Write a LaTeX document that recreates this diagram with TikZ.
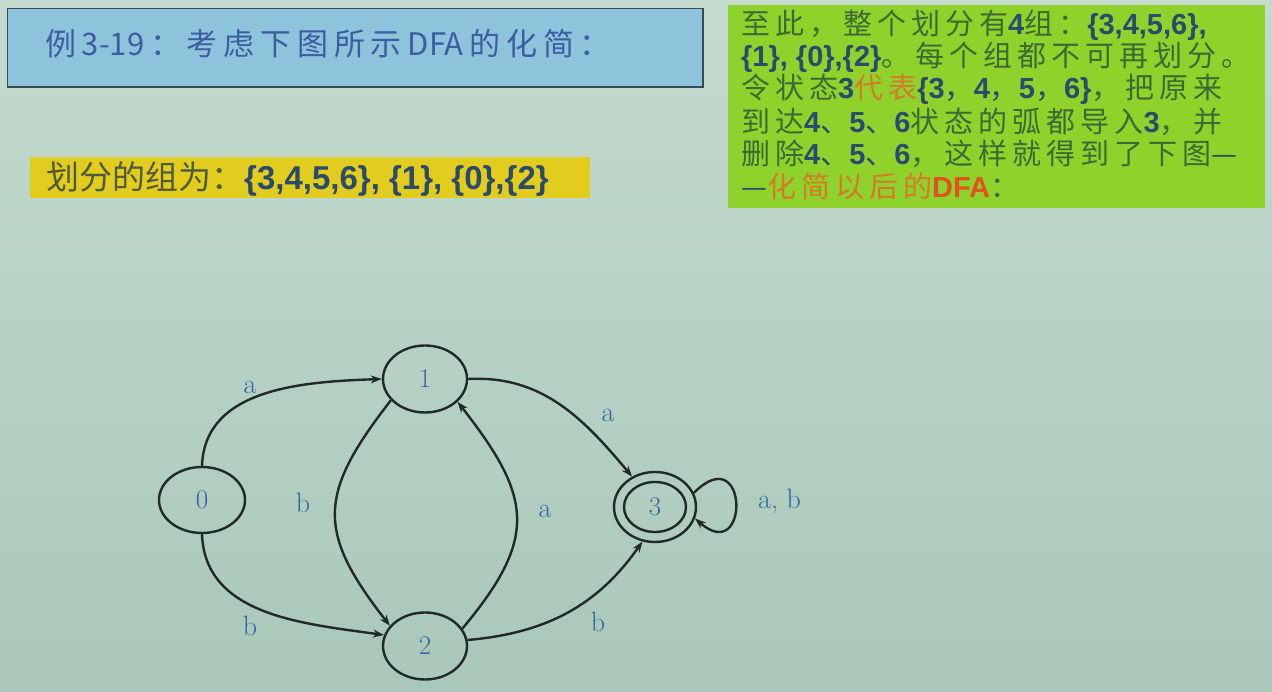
\documentclass[tikz,border=0pt]{standalone}
\usepackage{fontspec}
\setsansfont{Liberation Sans}
\newfontfamily\cjk{Noto Sans CJK SC}
\usetikzlibrary{shapes.geometric,arrows.meta}
\definecolor{bgtop}{HTML}{C4DBCF}
\definecolor{bgbot}{HTML}{A9C8B9}
\definecolor{titlefill}{HTML}{8EC3DC}
\definecolor{titletext}{HTML}{3A5EA0}
\definecolor{shadowc}{HTML}{3B4A52}
\definecolor{yellowfill}{HTML}{E2CD1F}
\definecolor{greenfill}{HTML}{90D22C}
\definecolor{gtext}{HTML}{3D6A33}
\definecolor{ytext}{HTML}{515A3A}
\definecolor{navy}{HTML}{2B4A6C}
\definecolor{orng}{HTML}{D47A28}
\definecolor{dfared}{HTML}{E0521E}
\definecolor{linec}{HTML}{1F2B24}
\definecolor{labelc}{HTML}{3467A0}
\newcount\mycjkc
\mycjkc="4E00
\loop \XeTeXcharclass\mycjkc=7 \advance\mycjkc by 1 \ifnum\mycjkc<"A000 \repeat
\XeTeXcharclass"3001=8 \XeTeXcharclass"3002=8 \XeTeXcharclass"FF0C=8
\XeTeXcharclass"FF1A=8 \XeTeXcharclass"2014=8
\newcommand\numtxt[1]{{\color{navy}\sffamily\bfseries #1}}
\newcommand\cjkp[1]{{\color{navy}\cjk #1}}
\newcommand\cjkspread[1]{\XeTeXinterchartokenstate=1
  \XeTeXinterchartoks 7 7 = {\hskip #1\relax}%
  \XeTeXinterchartoks 7 8 = {\hskip #1\relax}%
  \XeTeXinterchartoks 8 7 = {\hskip #1\relax}%
  \XeTeXinterchartoks 7 0 = {\hskip #1\relax}%
  \XeTeXinterchartoks 0 7 = {\hskip #1\relax}%
  \XeTeXinterchartoks 8 0 = {\hskip #1\relax}%
  \XeTeXinterchartoks 0 8 = {\hskip #1\relax}%
  \XeTeXinterchartoks 8 8 = {\hskip #1\relax}}
\tikzset{
  panel/.style={anchor=north west, inner sep=0pt, outer sep=0pt},
  state/.style={ellipse, draw=linec, line width=2.4pt, minimum width=86pt, minimum height=66pt,
    inner sep=0pt, text=labelc, font=\fontsize{27}{27}\selectfont},
  lbl/.style={text=labelc, font=\fontsize{28}{28}\selectfont, inner sep=0pt},
  conn/.style={draw=linec, line width=2.4pt, -{Stealth[length=11pt,width=8pt]}},
  gline/.style={anchor=west, inner sep=0pt, text=gtext, font=\cjk\fontsize{29}{34}\selectfont\cjkspread{5pt}},
}
\begin{document}
\begin{tikzpicture}[x=1pt,y=1pt]
\shade[top color=bgtop,bottom color=bgbot] (0,0) rectangle (1272,692);
\useasboundingbox (0,0) rectangle (1272,692);

% title box
\node[panel, fill=titlefill, draw=shadowc, line width=0.8pt, minimum width=696pt, minimum height=79pt] (tbox) at (7,684) {};
\draw[shadowc, line width=2.6pt] (tbox.south west) -- (tbox.south east) -- (tbox.north east);
\node[anchor=west, inner sep=0pt, text=titletext, font=\cjk\fontsize{31}{34}\selectfont\cjkspread{5.8pt}] (ttext) at (45,648) {例3-19：考虑下图所示DFA的化简：};

% yellow box
\node[panel, fill=yellowfill, minimum width=560pt, minimum height=41pt] (ybox) at (30,535) {};
\node[anchor=west, inner sep=0pt, text=ytext, font=\cjk\fontsize{33}{34}\selectfont] (ytxt) at (46,513)
  {划分的组为：\numtxt{\{3,4,5,6\}, \{1\}, \{0\},\{2\}}};

% green box
\node[panel, fill=greenfill, minimum width=537pt, minimum height=203pt] (gbox) at (728,687) {};
\node[gline] (g1) at (741,667) {至此，整个划分有\numtxt{4}组：\numtxt{\{3,4,5,6\},}};
\node[gline] (g2) at (741,635) {\numtxt{\{1\}, \{0\},\{2\}}。每个组都不可再划分。};
\node[gline] (g3) at (741,603) {令状态\numtxt{3}{\color{orng}代表}\numtxt{\{3}\cjkp{，}\numtxt{4}\cjkp{，}\numtxt{5}\cjkp{，}\numtxt{6\}}，把原来};
\node[gline] (g4) at (741,570) {到达\numtxt{4}\cjkp{、}\numtxt{5}\cjkp{、}\numtxt{6}状态的弧都导入\numtxt{3}，并};
\node[gline] (g5) at (741,538) {删除\numtxt{4}\cjkp{、}\numtxt{5}\cjkp{、}\numtxt{6}，这样就得到了下图\cjkp{—}};
\node[gline] (g6) at (741,505) {\cjkp{—}{\color{orng}化简以后的}{\color{dfared}\sffamily\bfseries DFA}：};

% states
\node[state] (n0) at (202,192) {0};
\node[state, minimum width=84pt, minimum height=67pt] (n1) at (425,313) {1};
\node[state, minimum width=84pt, minimum height=67pt] (n2) at (425,46) {2};
\node[state, minimum width=82pt, minimum height=70pt] (n3) at (655,185) {};
\node[state, minimum width=62pt, minimum height=50pt] (n3i) at (655,185) {3};

% transitions
\draw[conn] (n0.north) to[out=88,in=182] (n1.west);
\draw[conn] (n0.south) to[out=-88,in=172] (n2.165);
\draw[conn] (n1.212) to[out=232,in=128,looseness=1.35] (n2.150);
\draw[conn] (n2.25) to[out=50,in=-52,looseness=1.35] (n1.-35);
\draw[conn] (n1.east) to[out=3,in=130] (n3.127);
\draw[conn] (n2.8) to[out=5,in=-125] (n3.-110);
\draw[conn] (n3.20) .. controls +(55,55) and +(55,-48) .. (n3.-16);

% labels
\node[lbl] (la01) at (250,305) {a};
\node[lbl] (lb02) at (250,66) {b};
\node[lbl] (lb12) at (303,189) {b};
\node[lbl] (la21) at (545,181) {a};
\node[lbl] (la13) at (608,277) {a};
\node[lbl] (lb23) at (598,70) {b};
\node[lbl, anchor=west] (lab33) at (758,190) {a, b};
\end{tikzpicture}
\end{document}
